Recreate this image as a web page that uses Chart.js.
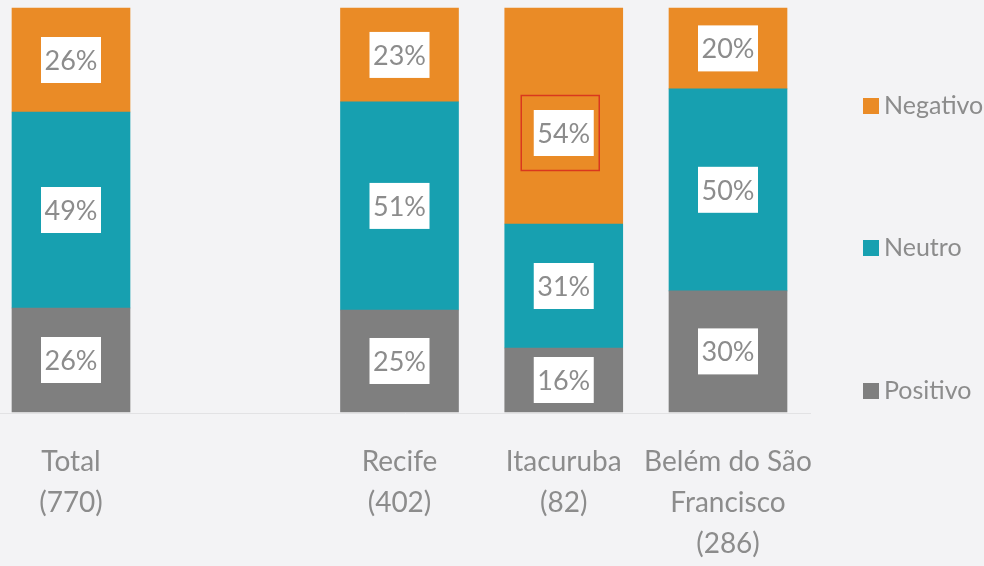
<!DOCTYPE html>
<html>
<head>
<meta charset="utf-8">
<script src="https://cdn.jsdelivr.net/npm/chart.js@4"></script>
<style>
  html, body { margin: 0; padding: 0; background: #f3f3f5; }
  #wrap { width: 984px; height: 566px; }
</style>
</head>
<body>
<div id="wrap">
  <canvas id="sentimentoChart" width="984" height="566"></canvas>
</div>
<script>
// categorias (a segunda fica vazia, como no original)
const categorias = [
  ['Total', '(770)'],
  '',
  ['Recife', '(402)'],
  ['Itacuruba', '(82)'],
  ['Belém do São', 'Francisco', '(286)']
];
const positivo = [26, null, 25, 16, 30];
const neutro   = [49, null, 51, 31, 50];
const negativo = [26, null, 23, 54, 20];

const cores = { positivo: '#7f7f7f', neutro: '#17a0b0', negativo: '#ea8b26' };
const cinzaTexto = '#8c8c8c';
const fonte = 'Lato, "Open Sans", sans-serif';

// 100% empilhado
const soma = positivo.map((v, i) => v == null ? null : v + neutro[i] + negativo[i]);
const pct = arr => arr.map((v, i) => v == null ? null : v / soma[i] * 100);

const rotulos = {
  id: 'rotulos',
  afterDatasetsDraw(chart) {
    const ctx = chart.ctx;
    ctx.save();
    ctx.font = '27px ' + fonte;
    ctx.textAlign = 'center';
    ctx.textBaseline = 'middle';
    chart.data.datasets.forEach((ds, di) => {
      chart.getDatasetMeta(di).data.forEach((bar, i) => {
        const v = ds.raw[i];
        if (v == null) return;
        let y = (bar.y + bar.base) / 2;
        const destaque = ds.label === 'Negativo' && i === 3;
        if (destaque) y += 17;
        const w = 60, h = 46;
        ctx.fillStyle = '#ffffff';
        ctx.fillRect(bar.x - w / 2, y - h / 2, w, h);
        ctx.fillStyle = cinzaTexto;
        ctx.fillText(v + '%', bar.x, y + 1);
        if (destaque) {
          ctx.strokeStyle = '#d9381e';
          ctx.lineWidth = 1.5;
          ctx.strokeRect(bar.x - 42.5, y - 37.5, 78, 75);
        }
      });
    });
    // linha de base
    const a = chart.chartArea;
    ctx.strokeStyle = '#e2e2e4';
    ctx.lineWidth = 1;
    ctx.beginPath();
    ctx.moveTo(0, a.bottom + 1.5);
    ctx.lineTo(811, a.bottom + 1.5);
    ctx.stroke();
    // legenda à direita
    const itens = [['Negativo', cores.negativo, 106], ['Neutro', cores.neutro, 248], ['Positivo', cores.positivo, 391]];
    ctx.font = '25px ' + fonte;
    ctx.textAlign = 'left';
    itens.forEach(([txt, cor, yy]) => {
      ctx.fillStyle = cor;
      ctx.fillRect(863, yy - 8, 16, 16);
      ctx.fillStyle = cinzaTexto;
      ctx.fillText(txt, 884, yy);
    });
    ctx.restore();
  }
};

new Chart(document.getElementById('sentimentoChart'), {
  type: 'bar',
  data: {
    labels: categorias,
    datasets: [
      { label: 'Positivo', data: pct(positivo), raw: positivo, backgroundColor: cores.positivo },
      { label: 'Neutro', data: pct(neutro), raw: neutro, backgroundColor: cores.neutro },
      { label: 'Negativo', data: pct(negativo), raw: negativo, backgroundColor: cores.negativo }
    ]
  },
  options: {
    responsive: false,
    animation: false,
    layout: { padding: { left: 71, right: 256, top: 8, bottom: 0 } },
    datasets: { bar: { barThickness: 118, clip: false } },
    plugins: { legend: { display: false }, tooltip: { enabled: false } },
    scales: {
      x: {
        stacked: true,
        offset: false,
        grid: { display: false, drawTicks: false },
        border: { display: false },
        ticks: {
          color: cinzaTexto,
          padding: 30,
          maxRotation: 0,
          autoSkip: false,
          font: { family: fonte, size: 28, lineHeight: 1.46 }
        },
        afterFit(scale) { scale.height = 154; }
      },
      y: {
        stacked: true,
        display: false,
        min: 0,
        max: 100
      }
    }
  },
  plugins: [rotulos]
});
</script>
</body>
</html>
